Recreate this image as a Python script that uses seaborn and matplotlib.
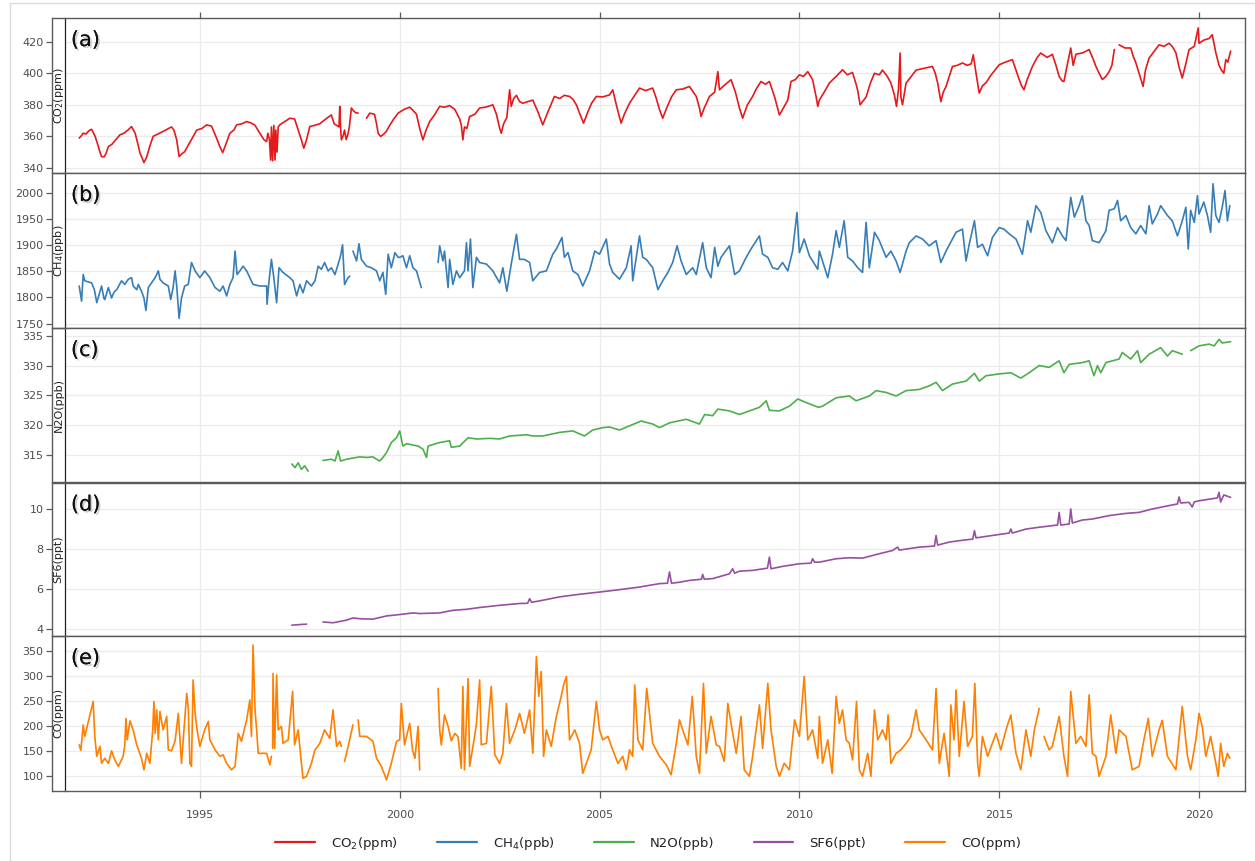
import numpy as np
import pandas as pd
import matplotlib
matplotlib.use("Agg")
import matplotlib.pyplot as plt
import seaborn as sns
from matplotlib import patheffects as pe
from matplotlib.lines import Line2D

nan = float("nan")

# ---------------- data (decimal year, value); nan marks a gap ----------------
co2_points = [
(1991.98,358.9),(1992.04,360.5),(1992.08,362),(1992.15,361.5),(1992.22,363.5),(1992.29,364.5),(1992.38,360),(1992.46,353.5),(1992.50,350),(1992.54,347.2),(1992.6,347),(1992.65,349),(1992.71,353.5),(1992.8,355),(1992.9,358),(1993.0,361),(1993.1,362),(1993.2,364),(1993.29,366.2),(1993.38,362),(1993.45,355),(1993.5,349.5),(1993.56,346),(1993.6,343.4),(1993.67,347),(1993.75,354),(1993.83,360),(1993.95,361.5),(1994.07,363),(1994.18,364.5),(1994.29,366),(1994.35,364),(1994.42,357.8),(1994.48,347.2),(1994.55,349),(1994.62,350.3),(1994.7,354),(1994.79,358),(1994.92,364),(1995.05,365),(1995.17,367.3),(1995.29,366.5),(1995.4,360),(1995.5,353.5),(1995.57,349.7),(1995.65,355),(1995.75,362),(1995.85,364),(1995.92,367.3),(1996.05,368),(1996.17,369.4),(1996.28,368.5),(1996.38,367),(1996.5,362),(1996.6,358),(1996.67,356.7),(1996.7,362),(1996.74,358),(1996.77,345),(1996.79,366),(1996.82,344.5),(1996.85,367),(1996.88,345),(1996.9,364),(1996.93,350),(1996.96,366),(1997.0,367.3),(1997.1,369),(1997.25,371.5),(1997.37,371),(1997.46,364),(1997.54,357.8),(1997.6,352.5),(1997.67,358),(1997.75,366.2),(1997.87,367),(1998.0,368),(1998.15,371),(1998.29,373.6),(1998.36,368),(1998.42,367),(1998.48,366),(1998.5,379),(1998.52,366),(1998.54,357.8),(1998.58,360),(1998.62,364),(1998.66,358),(1998.7,361),(1998.74,366),(1998.79,378),(1998.85,376),(1998.9,375),(1998.96,374.7),(1999.06,nan),(1999.17,371.5),(1999.25,374.7),(1999.37,374),(1999.42,368),(1999.46,362),(1999.52,360),(1999.58,361),(1999.66,363),(1999.75,367),(1999.85,371),(1999.96,374.7),(2000.1,377),(2000.25,378.5),(2000.35,376),(2000.42,374),(2000.5,365),(2000.58,357.8),(2000.66,364),(2000.75,369.4),(2000.88,374),(2001.0,379),(2001.12,378.5),(2001.25,379.5),(2001.38,377),(2001.5,371),(2001.54,367.3),(2001.58,357.8),(2001.62,366),(2001.68,365),(2001.75,372.6),(2001.88,374),(2002.0,378),(2002.15,378.5),(2002.33,380),(2002.42,374),(2002.5,365.2),(2002.54,362),(2002.6,368),(2002.68,372),(2002.75,389.5),(2002.79,379),(2002.85,384),(2002.92,386),(2003.0,382),(2003.08,381),(2003.2,382),(2003.33,383),(2003.45,376),(2003.58,367.3),(2003.7,375),(2003.8,381),(2003.87,385.3),(2004.0,384),(2004.12,386),(2004.25,385.3),(2004.33,383.6),(2004.42,380),(2004.5,374.7),(2004.6,368.4),(2004.7,375),(2004.8,381),(2004.92,385.3),(2005.08,385),(2005.25,386.3),(2005.33,389.5),(2005.42,380),(2005.5,372),(2005.54,368.4),(2005.62,374),(2005.75,381),(2005.88,386),(2006.0,390.6),(2006.15,389),(2006.33,390.6),(2006.42,384),(2006.5,377),(2006.58,371.5),(2006.68,378),(2006.8,385),(2006.92,389.5),(2007.08,390),(2007.25,391.6),(2007.42,385.3),(2007.5,378),(2007.54,372.6),(2007.62,378),(2007.75,385.3),(2007.88,388),(2007.96,401),(2008.0,389.5),(2008.15,393),(2008.29,395.9),(2008.4,388),(2008.5,378),(2008.58,371.5),(2008.7,380),(2008.83,385.3),(2008.92,390),(2009.04,394.8),(2009.15,393),(2009.25,394.8),(2009.38,385),(2009.5,373.6),(2009.6,378),(2009.71,383),(2009.79,394.8),(2009.9,396),(2010.0,399),(2010.1,398),(2010.21,401),(2010.33,396),(2010.42,385),(2010.46,379),(2010.5,383),(2010.62,388),(2010.75,393.8),(2010.92,398),(2011.08,402.2),(2011.2,399),(2011.33,400.5),(2011.42,393),(2011.46,389),(2011.52,380),(2011.58,382),(2011.67,385),(2011.78,394),(2011.88,400),(2012.0,399),(2012.08,402),(2012.2,398),(2012.29,393.8),(2012.38,386),(2012.43,379),(2012.48,390),(2012.52,412.8),(2012.54,385),(2012.58,380),(2012.67,393.8),(2012.8,398),(2012.92,402),(2013.1,403),(2013.33,404.3),(2013.4,400),(2013.46,393.8),(2013.54,382),(2013.6,388),(2013.67,391.6),(2013.75,398),(2013.83,404.3),(2013.95,405),(2014.08,406.5),(2014.2,405),(2014.3,406),(2014.35,411.7),(2014.42,400),(2014.5,387.4),(2014.58,392),(2014.67,394),(2014.8,399),(2015.0,405.4),(2015.15,407),(2015.33,408.6),(2015.42,402),(2015.5,396),(2015.56,392),(2015.62,389.5),(2015.7,396),(2015.83,404.3),(2015.95,410),(2016.04,412.8),(2016.2,410),(2016.33,412),(2016.42,405),(2016.5,398),(2016.58,395),(2016.62,394.8),(2016.7,405),(2016.79,416),(2016.85,405),(2016.92,412),(2017.1,413),(2017.25,415),(2017.35,409),(2017.42,404.3),(2017.5,400),(2017.58,396),(2017.67,398),(2017.75,401),(2017.82,405),(2017.88,415),(2017.94,nan),(2018.0,418),(2018.15,416),(2018.29,416),(2018.35,411),(2018.42,406.5),(2018.5,400),(2018.6,391.6),(2018.66,402),(2018.75,409.6),(2018.88,414),(2019.0,418),(2019.12,417),(2019.25,419),(2019.33,417),(2019.42,413),(2019.5,404),(2019.58,397),(2019.66,405),(2019.75,415),(2019.88,417),(2019.98,428.7),(2020.0,419),(2020.12,421),(2020.25,422),(2020.33,424.4),(2020.42,413),(2020.5,405),(2020.56,402),(2020.62,400),(2020.67,408.6),(2020.72,407),(2020.79,414),
]

ch4_points = [
(1991.98,1822),(1992.04,1793),(1992.08,1844),(1992.12,1832),(1992.2,1830),(1992.29,1828),(1992.36,1815),(1992.42,1790),(1992.48,1806),(1992.54,1822),(1992.6,1798),(1992.62,1796),(1992.71,1819),(1992.79,1799),(1992.85,1810),(1992.92,1815),(1993.04,1832),(1993.12,1825),(1993.21,1835),(1993.29,1838),(1993.33,1822),(1993.42,1815),(1993.46,1825),(1993.54,1812),(1993.6,1799),(1993.65,1775),(1993.71,1819),(1993.79,1828),(1993.88,1838),(1993.96,1851),(1994.0,1835),(1994.08,1828),(1994.21,1822),(1994.27,1796),(1994.33,1819),(1994.38,1851),(1994.42,1822),(1994.48,1760),(1994.54,1799),(1994.62,1822),(1994.71,1825),(1994.79,1867),(1994.88,1851),(1995.0,1838),(1995.12,1851),(1995.25,1838),(1995.38,1819),(1995.5,1812),(1995.58,1822),(1995.67,1803),(1995.75,1825),(1995.83,1838),(1995.88,1889),(1995.93,1844),(1996.0,1851),(1996.08,1860),(1996.17,1851),(1996.33,1825),(1996.5,1822),(1996.67,1822),(1996.68,1787),(1996.73,1832),(1996.79,1873),(1996.85,1838),(1996.92,1790),(1996.98,1857),(1997.08,1848),(1997.25,1838),(1997.33,1832),(1997.42,1803),(1997.5,1825),(1997.58,1809),(1997.67,1832),(1997.79,1822),(1997.88,1832),(1997.96,1860),(1998.04,1854),(1998.12,1867),(1998.21,1851),(1998.29,1857),(1998.38,1844),(1998.46,1864),(1998.52,1880),(1998.57,1901),(1998.62,1825),(1998.71,1838),(1998.75,1841),(1998.79,nan),(1998.83,1889),(1998.92,1870),(1998.98,1903),(1999.04,1873),(1999.17,1860),(1999.29,1857),(1999.42,1851),(1999.5,1832),(1999.58,1848),(1999.65,1806),(1999.71,1883),(1999.79,1857),(1999.88,1886),(1999.96,1877),(2000.0,1877),(2000.08,1880),(2000.17,1857),(2000.25,1880),(2000.33,1857),(2000.42,1851),(2000.54,1819),(2000.75,nan),(2000.96,1867),(2001.0,1899),(2001.08,1870),(2001.12,1889),(2001.21,1819),(2001.25,1873),(2001.33,1825),(2001.42,1851),(2001.5,1838),(2001.62,1851),(2001.67,1905),(2001.71,1851),(2001.77,1912),(2001.83,1819),(2001.92,1877),(2002.0,1867),(2002.17,1864),(2002.33,1851),(2002.5,1828),(2002.58,1857),(2002.68,1812),(2002.79,1864),(2002.92,1921),(2003.0,1873),(2003.12,1873),(2003.25,1867),(2003.33,1832),(2003.5,1848),(2003.67,1851),(2003.83,1883),(2003.92,1893),(2004.06,1915),(2004.12,1877),(2004.21,1886),(2004.33,1851),(2004.46,1844),(2004.58,1822),(2004.75,1851),(2004.88,1889),(2005.0,1883),(2005.17,1912),(2005.25,1864),(2005.33,1848),(2005.5,1835),(2005.67,1857),(2005.79,1899),(2005.83,1832),(2006.0,1918),(2006.08,1877),(2006.17,1873),(2006.33,1857),(2006.46,1815),(2006.58,1832),(2006.71,1848),(2006.83,1867),(2006.94,1899),(2007.04,1870),(2007.17,1844),(2007.33,1857),(2007.42,1844),(2007.58,1905),(2007.67,1857),(2007.79,1838),(2007.88,1896),(2007.96,1860),(2008.04,1877),(2008.25,1899),(2008.38,1844),(2008.5,1851),(2008.67,1877),(2008.79,1893),(2009.0,1918),(2009.08,1883),(2009.21,1877),(2009.33,1857),(2009.46,1854),(2009.58,1867),(2009.71,1851),(2009.83,1889),(2009.94,1963),(2010.0,1886),(2010.12,1912),(2010.25,1880),(2010.46,1854),(2010.5,1889),(2010.62,1860),(2010.71,1838),(2010.83,1883),(2010.92,1928),(2011.0,1896),(2011.12,1947),(2011.21,1877),(2011.33,1870),(2011.46,1857),(2011.58,1848),(2011.67,1944),(2011.75,1857),(2011.88,1925),(2012.0,1909),(2012.17,1877),(2012.29,1889),(2012.42,1870),(2012.52,1848),(2012.67,1889),(2012.75,1905),(2012.92,1918),(2013.08,1912),(2013.25,1899),(2013.42,1909),(2013.54,1867),(2013.67,1889),(2013.92,1925),(2014.08,1931),(2014.17,1870),(2014.25,1902),(2014.38,1947),(2014.46,1896),(2014.58,1902),(2014.71,1880),(2014.83,1915),(2015.0,1934),(2015.12,1931),(2015.25,1922),(2015.42,1912),(2015.58,1883),(2015.71,1947),(2015.79,1925),(2015.92,1976),(2016.04,1963),(2016.17,1928),(2016.33,1905),(2016.46,1934),(2016.58,1918),(2016.67,1909),(2016.79,1992),(2016.88,1954),(2017.0,1976),(2017.08,1995),(2017.17,1947),(2017.25,1938),(2017.33,1909),(2017.5,1905),(2017.67,1928),(2017.75,1967),(2017.88,1970),(2017.96,1986),(2018.04,1947),(2018.17,1957),(2018.29,1934),(2018.42,1922),(2018.54,1938),(2018.67,1922),(2018.75,1976),(2018.83,1941),(2018.96,1960),(2019.04,1976),(2019.21,1957),(2019.33,1947),(2019.46,1918),(2019.58,1947),(2019.67,1973),(2019.73,1893),(2019.79,1967),(2019.88,1944),(2019.96,1995),(2020.0,1960),(2020.12,1983),(2020.21,1957),(2020.29,1925),(2020.35,2018),(2020.42,1957),(2020.5,1944),(2020.58,1973),(2020.65,2005),(2020.71,1947),(2020.77,1976),
]

n2o_points = [
(1997.3,313.5),(1997.38,312.9),(1997.46,313.7),(1997.54,312.6),(1997.62,313.2),(1997.71,312.3),(1997.9,nan),(1998.08,314.1),(1998.29,314.3),(1998.38,314.0),(1998.46,315.7),(1998.52,314.0),(1998.67,314.3),(1998.83,314.5),(1999.0,314.7),(1999.17,314.6),(1999.33,314.7),(1999.42,314.3),(1999.5,314.0),(1999.58,314.6),(1999.67,315.4),(1999.79,317.1),(1999.92,317.9),(2000.0,319.05),(2000.08,316.5),(2000.17,316.9),(2000.25,316.8),(2000.46,316.5),(2000.58,316.0),(2000.67,314.6),(2000.71,316.5),(2000.85,316.8),(2001.0,317.1),(2001.25,317.4),(2001.29,316.3),(2001.5,316.5),(2001.71,317.9),(2001.92,317.7),(2002.25,317.8),(2002.5,317.7),(2002.75,318.2),(2003.17,318.4),(2003.33,318.2),(2003.58,318.2),(2004.0,318.8),(2004.33,319.05),(2004.62,318.2),(2004.83,319.2),(2005.08,319.6),(2005.25,319.7),(2005.5,319.2),(2005.75,319.9),(2006.04,320.7),(2006.33,320.2),(2006.5,319.6),(2006.75,320.4),(2007.17,321.0),(2007.5,320.2),(2007.63,321.8),(2007.83,321.6),(2007.96,322.7),(2008.25,322.4),(2008.5,321.8),(2008.75,322.4),(2009.0,323.0),(2009.17,324.1),(2009.25,322.5),(2009.5,322.4),(2009.75,323.2),(2009.96,324.4),(2010.17,323.8),(2010.48,323.0),(2010.58,323.2),(2010.92,324.6),(2011.25,324.9),(2011.42,324.1),(2011.75,324.9),(2011.92,325.8),(2012.17,325.5),(2012.42,324.9),(2012.67,325.8),(2013.0,326.0),(2013.25,326.6),(2013.42,327.2),(2013.58,325.8),(2013.83,326.9),(2014.17,327.4),(2014.38,328.7),(2014.5,327.4),(2014.67,328.3),(2015.0,328.6),(2015.29,328.8),(2015.54,327.9),(2015.75,328.8),(2016.0,330.0),(2016.25,329.7),(2016.5,330.8),(2016.62,328.8),(2016.75,330.2),(2017.08,330.5),(2017.25,330.8),(2017.37,328.3),(2017.46,330.0),(2017.54,328.8),(2017.67,330.5),(2018.0,331.1),(2018.08,332.2),(2018.29,331.1),(2018.46,332.5),(2018.54,330.5),(2018.75,331.9),(2019.04,333.0),(2019.21,331.6),(2019.33,332.5),(2019.58,331.9),(2019.68,nan),(2019.79,332.5),(2020.0,333.3),(2020.25,333.6),(2020.38,333.3),(2020.5,334.4),(2020.58,333.8),(2020.79,334.0),
]

sf6_points = [
(1997.3,4.21),(1997.5,4.24),(1997.67,4.26),(1997.9,nan),(1998.08,4.37),(1998.33,4.33),(1998.67,4.46),(1998.83,4.57),(1999.0,4.53),(1999.33,4.51),(1999.67,4.67),(2000.0,4.74),(2000.33,4.82),(2000.5,4.79),(2001.0,4.82),(2001.33,4.95),(2001.67,5.0),(2002.0,5.09),(2002.5,5.20),(2003.0,5.29),(2003.2,5.3),(2003.25,5.53),(2003.3,5.35),(2003.5,5.42),(2004.0,5.62),(2004.5,5.75),(2005.0,5.86),(2005.5,5.98),(2006.0,6.11),(2006.5,6.28),(2006.7,6.3),(2006.75,6.86),(2006.8,6.3),(2007.0,6.35),(2007.25,6.44),(2007.55,6.5),(2007.58,6.74),(2007.62,6.5),(2007.83,6.53),(2008.25,6.77),(2008.33,7.02),(2008.38,6.8),(2008.5,6.90),(2008.83,6.94),(2009.2,7.05),(2009.25,7.60),(2009.29,7.02),(2009.58,7.14),(2010.0,7.27),(2010.29,7.3),(2010.33,7.52),(2010.38,7.35),(2010.5,7.35),(2010.92,7.52),(2011.25,7.57),(2011.58,7.55),(2012.0,7.77),(2012.33,7.93),(2012.46,8.1),(2012.5,7.95),(2013.0,8.1),(2013.38,8.15),(2013.42,8.68),(2013.46,8.2),(2013.75,8.35),(2014.0,8.42),(2014.34,8.5),(2014.38,8.92),(2014.42,8.56),(2015.0,8.73),(2015.25,8.8),(2015.29,9.0),(2015.33,8.8),(2015.67,9.0),(2016.0,9.09),(2016.33,9.17),(2016.46,9.2),(2016.5,9.83),(2016.54,9.2),(2016.75,9.25),(2016.79,10.0),(2016.83,9.3),(2017.08,9.45),(2017.33,9.5),(2017.75,9.67),(2018.17,9.78),(2018.5,9.83),(2018.83,10.0),(2019.25,10.17),(2019.46,10.25),(2019.5,10.6),(2019.54,10.3),(2019.75,10.33),(2019.83,10.1),(2019.88,10.35),(2020.0,10.41),(2020.29,10.5),(2020.46,10.55),(2020.5,10.83),(2020.54,10.35),(2020.62,10.7),(2020.79,10.58),
]

co_points = [
(1991.98,162),(1992.02,151),(1992.05,175),(1992.08,202),(1992.12,179),(1992.18,199),(1992.33,249),(1992.37,179),(1992.42,139),(1992.5,159),(1992.54,125),(1992.62,135),(1992.71,125),(1992.79,150),(1992.87,132),(1992.96,119),(1993.08,139),(1993.12,160),(1993.15,215),(1993.18,172),(1993.25,210),(1993.33,192),(1993.42,162),(1993.54,135),(1993.6,112),(1993.67,145),(1993.75,125),(1993.82,192),(1993.85,249),(1993.88,185),(1993.92,232),(1993.96,172),(1994.0,229),(1994.08,192),(1994.17,219),(1994.21,152),(1994.29,150),(1994.38,170),(1994.46,225),(1994.54,125),(1994.62,212),(1994.67,265),(1994.71,235),(1994.75,125),(1994.79,119),(1994.83,292),(1994.88,225),(1994.93,192),(1995.0,159),(1995.12,192),(1995.21,209),(1995.25,172),(1995.38,152),(1995.5,139),(1995.58,142),(1995.67,125),(1995.79,112),(1995.88,119),(1995.96,185),(1996.04,169),(1996.17,212),(1996.25,252),(1996.29,179),(1996.33,362),(1996.38,232),(1996.42,192),(1996.46,145),(1996.67,145),(1996.75,122),(1996.79,139),(1996.81,nan),(1996.82,155),(1996.83,305),(1996.87,155),(1996.92,302),(1996.96,192),(1997.04,199),(1997.08,165),(1997.21,172),(1997.32,269),(1997.37,162),(1997.46,192),(1997.54,125),(1997.58,95),(1997.67,99),(1997.79,125),(1997.88,152),(1998.0,165),(1998.12,192),(1998.25,175),(1998.33,232),(1998.42,159),(1998.5,169),(1998.54,159),(1998.58,nan),(1998.62,129),(1998.71,159),(1998.83,202),(1998.9,nan),(1998.96,212),(1999.0,179),(1999.17,179),(1999.33,169),(1999.42,135),(1999.54,119),(1999.67,92),(1999.79,125),(1999.92,169),(2000.0,172),(2000.04,245),(2000.12,162),(2000.21,192),(2000.25,205),(2000.32,152),(2000.38,135),(2000.46,199),(2000.5,112),(2000.7,nan),(2000.96,275),(2001.0,192),(2001.04,162),(2001.12,222),(2001.21,199),(2001.29,170),(2001.38,185),(2001.46,178),(2001.54,115),(2001.58,279),(2001.62,112),(2001.71,295),(2001.75,119),(2001.88,182),(2001.92,205),(2002.0,292),(2002.04,162),(2002.17,165),(2002.29,279),(2002.38,142),(2002.5,125),(2002.58,145),(2002.67,245),(2002.75,165),(2002.88,192),(2003.0,225),(2003.12,185),(2003.25,232),(2003.33,145),(2003.42,339),(2003.48,259),(2003.54,309),(2003.6,139),(2003.67,192),(2003.79,159),(2003.92,219),(2004.04,259),(2004.1,282),(2004.17,299),(2004.25,172),(2004.38,192),(2004.5,165),(2004.58,105),(2004.67,125),(2004.79,152),(2004.92,249),(2005.0,192),(2005.08,172),(2005.21,179),(2005.33,152),(2005.46,125),(2005.58,139),(2005.67,112),(2005.75,152),(2005.83,139),(2005.88,282),(2005.96,172),(2006.08,152),(2006.18,275),(2006.25,225),(2006.33,165),(2006.5,139),(2006.67,122),(2006.79,102),(2006.92,165),(2007.0,212),(2007.08,192),(2007.21,162),(2007.32,259),(2007.42,139),(2007.5,105),(2007.6,285),(2007.67,145),(2007.79,219),(2007.92,162),(2008.0,159),(2008.12,129),(2008.21,245),(2008.29,205),(2008.42,145),(2008.54,219),(2008.62,112),(2008.75,99),(2008.83,139),(2009.0,242),(2009.08,155),(2009.21,285),(2009.29,192),(2009.42,119),(2009.5,99),(2009.62,125),(2009.75,112),(2009.88,212),(2010.0,179),(2010.12,299),(2010.21,172),(2010.33,192),(2010.46,135),(2010.5,219),(2010.58,125),(2010.71,172),(2010.82,105),(2010.92,259),(2011.0,205),(2011.08,232),(2011.17,172),(2011.25,165),(2011.33,132),(2011.43,249),(2011.5,112),(2011.58,99),(2011.71,145),(2011.79,99),(2011.88,232),(2011.96,172),(2012.08,192),(2012.17,172),(2012.22,222),(2012.29,125),(2012.42,145),(2012.54,152),(2012.67,165),(2012.79,179),(2012.92,232),(2013.0,192),(2013.17,172),(2013.33,152),(2013.42,275),(2013.5,125),(2013.62,185),(2013.75,99),(2013.79,242),(2013.87,172),(2013.92,272),(2014.0,139),(2014.12,249),(2014.21,159),(2014.33,179),(2014.39,285),(2014.46,125),(2014.5,99),(2014.58,179),(2014.71,139),(2014.92,185),(2015.04,152),(2015.17,192),(2015.29,222),(2015.42,145),(2015.54,112),(2015.67,192),(2015.79,139),(2015.88,192),(2016.0,235),(2016.06,nan),(2016.12,179),(2016.25,152),(2016.33,159),(2016.5,219),(2016.62,139),(2016.71,99),(2016.79,269),(2016.92,165),(2017.04,179),(2017.17,159),(2017.25,262),(2017.33,145),(2017.42,139),(2017.5,99),(2017.67,139),(2017.79,222),(2017.92,145),(2018.0,192),(2018.17,179),(2018.33,112),(2018.5,119),(2018.62,172),(2018.73,215),(2018.83,139),(2019.0,192),(2019.08,211),(2019.21,139),(2019.42,112),(2019.58,239),(2019.71,139),(2019.79,112),(2019.92,172),(2020.0,225),(2020.08,199),(2020.17,139),(2020.29,179),(2020.42,125),(2020.48,99),(2020.54,165),(2020.62,119),(2020.71,145),(2020.77,135),
]

series_labels = ["CO$_2$(ppm)", "CH$_4$(ppb)", "N2O(ppb)", "SF6(ppt)", "CO(ppm)"]
panel_letters = ["(a)", "(b)", "(c)", "(d)", "(e)"]
y_ticks = [[340, 360, 380, 400, 420],
           [1750, 1800, 1850, 1900, 1950, 2000],
           [315, 320, 325, 330, 335],
           [4, 6, 8, 10],
           [100, 150, 200, 250, 300, 350]]
year_ticks = [1995, 2000, 2005, 2010, 2015, 2020]

# ---------------- styling ----------------
sns.set_theme(style="white")
plt.rcParams["font.family"] = ["DejaVu Sans"]

y_limits = [(336.8, 435.0), (1741.5, 2038.6), (310.4, 336.3), (3.67, 11.32), (70.6, 380.0)]
x_limits = (1991.625, 2021.15)
palette = sns.color_palette("Set1")
colors = [palette[0], palette[1], palette[2], palette[3], palette[4]]

W, H = 1255, 861
fig = plt.figure(figsize=(W / 100, H / 100), dpi=100)
panel_px = [(18, 173), (173, 328), (328, 482.5), (482.5, 636), (636, 790.5)]
left_px, right_px = 65, 1245
strip_px = 13
frame_col = "#5a5a5a"

all_points = [co2_points, ch4_points, n2o_points, sf6_points, co_points]


def to_frame(points):
    df = pd.DataFrame(points, columns=["year", "value"])
    df["seg"] = df["value"].isna().cumsum()
    return df.dropna()


for i, (top, bot) in enumerate(panel_px):
    ax = fig.add_axes([left_px / W, 1 - bot / H, (right_px - left_px) / W, (bot - top) / H])
    df = to_frame(all_points[i])
    sns.lineplot(data=df, x="year", y="value", units="seg", estimator=None,
                 color=colors[i], linewidth=1.2, ax=ax, legend=False, sort=False)
    ax.set_xlim(*x_limits)
    ax.set_ylim(*y_limits[i])
    ax.set_xticks(year_ticks)
    ax.set_yticks(y_ticks[i])
    ax.set_xlabel("")
    ax.set_ylabel("")
    ax.grid(True, color="#ebebeb", linewidth=0.9)
    ax.set_axisbelow(True)
    for s in ax.spines.values():
        s.set_color(frame_col)
        s.set_linewidth(1.0)
        s.set_visible(True)
    ax.spines["left"].set_position(("outward", strip_px * 0.72))
    ax.tick_params(axis="y", left=True, direction="out", length=4, width=0.9,
                   color=frame_col, labelsize=8, labelcolor="#4d4d4d", pad=2)
    if i == 0:
        ax.tick_params(axis="x", top=True, bottom=False, labeltop=False, labelbottom=False,
                       direction="out", length=4.5, width=0.9, color=frame_col)
    elif i == 4:
        ax.tick_params(axis="x", top=False, bottom=True, labelbottom=True, direction="out",
                       length=5, width=0.9, color=frame_col, labelsize=8,
                       labelcolor="#4d4d4d", pad=9)
    else:
        ax.tick_params(axis="x", top=False, bottom=False, labelbottom=False, length=0)

    axw = right_px - left_px
    ax.plot([0, 0], [0, 1], transform=ax.transAxes, color="#222222", lw=0.9, clip_on=False)
    for yy in (0, 1):
        ax.plot([-strip_px / axw, 0], [yy, yy], transform=ax.transAxes, color=frame_col,
                lw=1.0, clip_on=False)
    ax.text(-strip_px / 2 / axw, 0.5, series_labels[i], transform=ax.transAxes, rotation=90,
            ha="center", va="center", fontsize=8, color="#222222")
    ax.text(0.005, 1 - 22 / (bot - top), panel_letters[i], transform=ax.transAxes,
            ha="left", va="center", fontsize=15, color="#111111",
            path_effects=[pe.withSimplePatchShadow(offset=(1.3, -1.3), shadow_rgbFace="#888888", alpha=0.4),
                          pe.Normal()])

# legend
handles = [Line2D([0], [0], color=colors[i], lw=1.6) for i in range(5)]
fig.legend(handles, series_labels, loc="center", bbox_to_anchor=(648 / W, 1 - 843 / H),
           ncol=5, frameon=False, fontsize=9.5, handlelength=3.0, handletextpad=1.2,
           columnspacing=3.0, labelcolor="#222222")

# light image border
fig.add_artist(Line2D([10 / W, 10 / W], [0, 1 - 3 / H], transform=fig.transFigure,
                      color="#dcdcdc", lw=1))
fig.add_artist(Line2D([10 / W, 1], [1 - 3 / H, 1 - 3 / H], transform=fig.transFigure,
                      color="#dcdcdc", lw=1))

fig.savefig("out.png", dpi=100, facecolor="white")
